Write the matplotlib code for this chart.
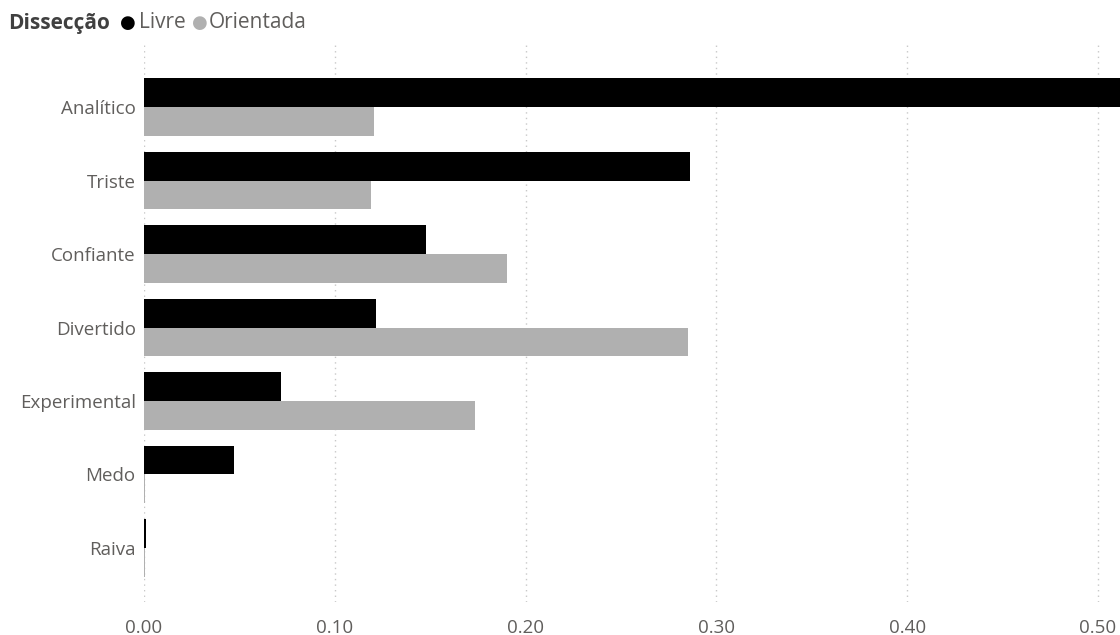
import matplotlib
matplotlib.use("Agg")
import matplotlib.pyplot as plt
import numpy as np

categories = ["Analítico", "Triste", "Confiante", "Divertido", "Experimental", "Medo", "Raiva"]
livre = [0.53, 0.286, 0.148, 0.1216, 0.0718, 0.047, 0.001]
orientada = [0.1205, 0.119, 0.190, 0.285, 0.1735, 0.0006, 0.0006]
xticks = [0.0, 0.1, 0.2, 0.3, 0.4, 0.5]
xticklabels = ["0.00", "0.10", "0.20", "0.30", "0.40", "0.50"]

plt.rcParams['font.family'] = ['Open Sans', 'DejaVu Sans']
label_color = "#605E5C"

W, H = 1120, 635
fig = plt.figure(figsize=(11.2, 6.35), dpi=100)
ax = fig.add_axes([144/W, 1 - 602/H, 1 - 144/W, (602-45)/H])

y = np.arange(len(categories))
h = 0.39
ax.barh(y - h/2, livre, height=h, color="#000000", zorder=3)
ax.barh(y + h/2, orientada, height=h, color="#B0B0B0", zorder=3)

ax.set_xlim(0, 0.5115)
ax.set_ylim(6.735, -0.844)
ax.set_yticks(y)
ax.set_yticklabels(categories, fontsize=13.5, color=label_color)
ax.set_xticks(xticks)
ax.set_xticklabels(xticklabels, fontsize=13.5, color=label_color)
ax.tick_params(axis='both', length=0)
ax.tick_params(axis='y', pad=6)
ax.tick_params(axis='x', pad=12)
for s in ax.spines.values():
    s.set_visible(False)
ax.grid(axis='x', linestyle=(0, (1, 3)), color="#C8C8C8", linewidth=1, zorder=0)
ax.set_axisbelow(True)

ly = 1 - 23/H
fig.text(8/W, ly, "Dissecção", fontsize=15, fontweight='bold', color="#404040", va='center', ha='left')
fig.text(128/W, ly, "●", fontsize=13, color="#000000", va='center', ha='center')
fig.text(139/W, ly, "Livre", fontsize=15, color=label_color, va='center', ha='left')
fig.text(200/W, ly, "●", fontsize=13, color="#B0B0B0", va='center', ha='center')
fig.text(209/W, ly, "Orientada", fontsize=15, color=label_color, va='center', ha='left')

fig.savefig("out.png", dpi=100)
